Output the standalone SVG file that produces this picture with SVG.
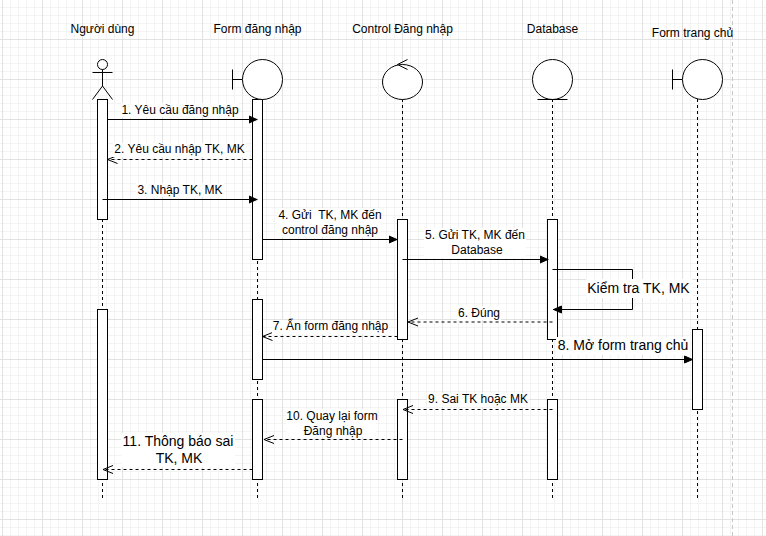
<svg xmlns="http://www.w3.org/2000/svg" width="766" height="536" viewBox="0 0 766 536">
<style>
text{font-family:"Liberation Sans",Arial,sans-serif;font-size:12px;fill:#000;text-anchor:middle;white-space:pre}
.big{font-size:14px}
.s{fill:#fff;stroke:#000;stroke-width:1}
.n{fill:none;stroke:#000;stroke-width:1}
.life{fill:none;stroke:#000;stroke-width:1;stroke-dasharray:3 3}
.call{fill:none;stroke:#000;stroke-width:1;marker-end:url(#solid)}
.ret{fill:none;stroke:#000;stroke-width:1;stroke-dasharray:3 3;marker-end:url(#open)}
.bg{fill:#fff}
</style>
<defs>
<pattern id="minor" width="8" height="8" patternUnits="userSpaceOnUse" x="2" y="-1"><path d="M0 0.5H8M0.5 0V8" fill="none" stroke="#f3f3f3" stroke-width="1"/></pattern>
<pattern id="major" width="40" height="40" patternUnits="userSpaceOnUse" x="2" y="-1"><path d="M0 0.5H40M0.5 0V40" fill="none" stroke="#e2e2e2" stroke-width="1"/></pattern>
<marker id="solid" markerUnits="userSpaceOnUse" markerWidth="10" markerHeight="10" refX="9" refY="4.5" orient="auto"><path d="M0.5 1L8.5 4.5L0.5 8Z" fill="#000" stroke="#000"/></marker>
<marker id="open" markerUnits="userSpaceOnUse" markerWidth="12" markerHeight="12" refX="10.5" refY="5.5" orient="auto"><path d="M0.5 1.5L10.5 5.5L0.5 9.5" fill="none" stroke="#000"/></marker>
</defs>
<g id="background">
<rect width="766" height="536" fill="#fff"/>
<rect width="766" height="536" fill="url(#minor)"/>
<rect width="766" height="536" fill="url(#major)"/>
<path d="M732.5 0V536" fill="none" stroke="#c8c8c8" stroke-dasharray="4 3"/>
</g>
<g id="lifelines">
<path class="life" d="M102.5 99V499"/>
<path class="life" d="M257.5 99V499"/>
<path class="life" d="M402.5 99V499"/>
<path class="life" d="M552.5 99V499"/>
<path class="life" d="M697.5 99V499"/>
</g>
<g id="activations">
<rect class="s" x="97.5" y="99.5" width="10" height="120"/>
<rect class="s" x="97.5" y="309.5" width="10" height="170"/>
<rect class="s" x="252.5" y="99.5" width="10" height="160"/>
<rect class="s" x="252.5" y="299.5" width="10" height="80"/>
<rect class="s" x="252.5" y="399.5" width="10" height="80"/>
<rect class="s" x="397.5" y="219.5" width="10" height="120"/>
<rect class="s" x="397.5" y="399.5" width="10" height="80"/>
<rect class="s" x="547.5" y="219.5" width="10" height="120"/>
<rect class="s" x="547.5" y="399.5" width="10" height="80"/>
<rect class="s" x="692.5" y="329.5" width="10" height="80"/>
</g>
<g id="node-nguoi-dung">
<text x="102.5" y="33">Người dùng</text>
<circle class="s" cx="102.5" cy="64.5" r="5"/>
<path class="n" d="M102.5 69.5V86M92.5 72.5H112.5M92.5 99.5L102.5 86L112.5 99.5"/>
</g>
<g id="node-form-dang-nhap">
<text x="257.5" y="33">Form đăng nhập</text>
<path class="n" d="M232.5 69.5V89.5M232.5 79.5H242.5"/>
<circle class="s" cx="262.5" cy="79.5" r="20"/>
</g>
<g id="node-control">
<text x="402.5" y="33">Control Đăng nhập</text>
<ellipse class="s" cx="402.5" cy="82" rx="20" ry="17.5"/>
<path class="n" d="M407.5 59.5L397.5 64.5L407.5 69.5"/>
</g>
<g id="node-database">
<text x="552.5" y="33">Database</text>
<circle class="s" cx="552.5" cy="79.5" r="20"/>
<path class="n" d="M537.5 99.5H567.5"/>
</g>
<g id="node-form-trang-chu">
<text x="692.5" y="37">Form trang chủ</text>
<path class="n" d="M672.5 69.5V89.5M672.5 79.5H682.5"/>
<circle class="s" cx="702.5" cy="79.5" r="20"/>
</g>
<g id="connectors">
<path class="call" d="M107.5 119.5H257.5"/>
<path class="ret" d="M252.5 159.5H107.5"/>
<path class="call" d="M102.5 199.5H257.5"/>
<path class="call" d="M262.5 239.5H397.5"/>
<path class="call" d="M402.5 259.5H548.5"/>
<path class="call" d="M552.5 269.5H632.5V309.5H553"/>
<path class="ret" d="M552.5 322H408"/>
<path class="ret" d="M397.5 336.5H262.5"/>
<path class="call" d="M262.5 359.5H693"/>
<path class="ret" d="M552.5 409.5H403"/>
<path class="ret" d="M402.5 439.5H264"/>
<path class="ret" d="M252.5 469.5H103"/>
</g>
<g id="labels">
<rect class="bg" x="121" y="103" width="118" height="14"/>
<text x="180" y="114">1. Yêu cầu đăng nhập</text>
<rect class="bg" x="113" y="143" width="133" height="14"/>
<text x="179.5" y="153">2. Yêu cầu nhập TK, MK</text>
<rect class="bg" x="136" y="183" width="88" height="14"/>
<text x="180" y="194">3. Nhập TK, MK</text>
<rect class="bg" x="277" y="208" width="104" height="29"/>
<text x="330" y="219">4. Gửi  TK, MK đến</text>
<text x="330" y="234">control đăng nhập</text>
<rect class="bg" x="424" y="228" width="102" height="30"/>
<text x="475" y="239">5. Gửi TK, MK đến</text>
<text x="477" y="254">Database</text>
<rect class="bg" x="586" y="279" width="106" height="19"/>
<text class="big" x="638.5" y="293">Kiểm tra TK, MK</text>
<rect class="bg" x="457" y="306" width="44" height="14"/>
<text x="479" y="317">6. Đúng</text>
<rect class="bg" x="272" y="320" width="117" height="14"/>
<text x="330.5" y="330">7. Ẩn form đăng nhập</text>
<rect class="bg" x="556" y="337" width="134" height="18"/>
<text class="big" x="623" y="350">8. Mở form trang chủ</text>
<rect class="bg" x="427" y="393" width="102" height="14"/>
<text x="478" y="403">9. Sai TK hoặc MK</text>
<rect class="bg" x="286" y="409" width="90" height="28"/>
<text x="332" y="420">10. Quay lại form</text>
<text x="333" y="435">Đăng nhập</text>
<rect class="bg" x="121" y="433" width="114" height="34"/>
<text class="big" x="178" y="446">11. Thông báo sai</text>
<text class="big" x="179" y="463">TK, MK</text>
</g>
</svg>
